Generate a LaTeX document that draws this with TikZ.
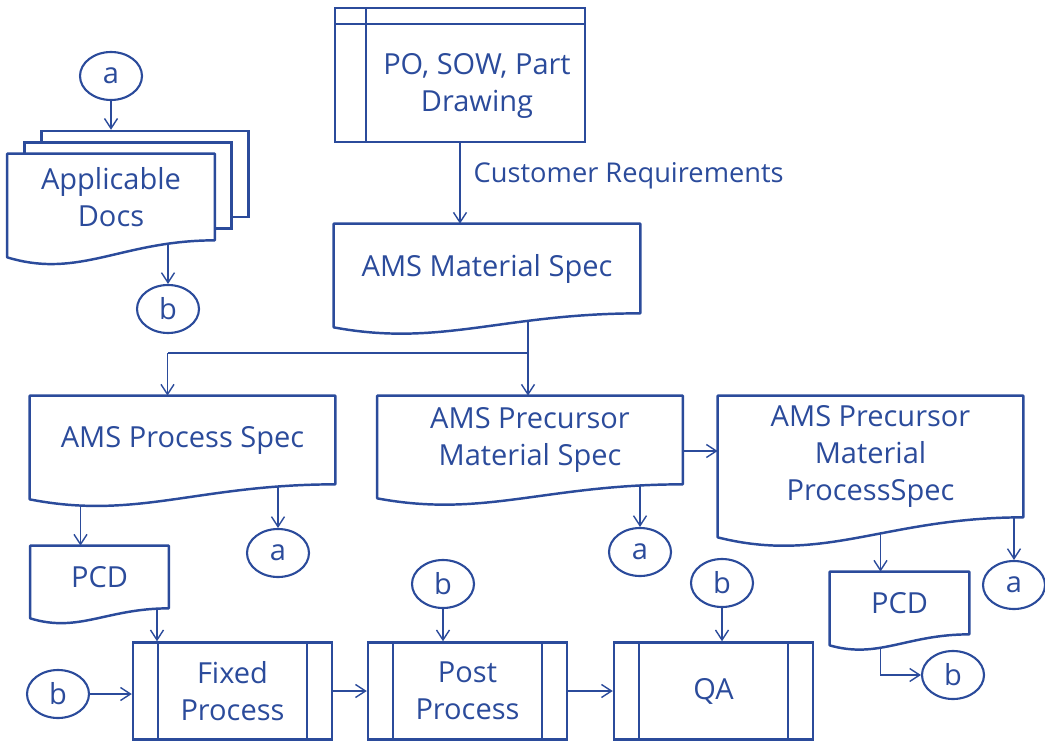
\documentclass[tikz,border=0pt]{standalone}
\usepackage{fontspec}
\setmainfont{Open Sans}
\usepackage{tikz}
\usetikzlibrary{arrows.meta,shapes,positioning,calc}

\definecolor{geblue}{RGB}{43,75,155}

% wavy bottom of a document node: name, left drop, control drop
\newcommand{\docwave}[3]{%
  \fill[white] (#1.south east) .. controls ($(#1.south east)!0.45!(#1.south west)$) and ($(#1.south east)!0.65!(#1.south west)+(0,-#3)$) .. ($(#1.south west)+(0,-#2)$) -- ([yshift=0.04cm]#1.south west) -- ([yshift=0.04cm]#1.south east) -- cycle;
  \draw[docline] (#1.north west) -- (#1.north east) -- (#1.south east) .. controls ($(#1.south east)!0.45!(#1.south west)$) and ($(#1.south east)!0.65!(#1.south west)+(0,-#3)$) .. ($(#1.south west)+(0,-#2)$) -- cycle;
}

\begin{document}
\begin{tikzpicture}[color=geblue, text=geblue, >={Straight Barb[length=2mm,width=2.6mm]},
    font=\fontsize{16.5}{21}\selectfont,
    doc/.style={rectangle, inner sep=0pt, align=center, minimum width=6.1cm, minimum height=1.76cm},
    page/.style={rectangle, draw, line width=1.4pt, fill=white, minimum width=4.14cm, minimum height=1.72cm},
    store/.style={rectangle, draw, line width=1.4pt, minimum width=5cm, minimum height=2.68cm,
      path picture={\draw[line width=1.4pt] ([xshift=0.62cm]path picture bounding box.north west) -- ([xshift=0.62cm]path picture bounding box.south west)
        ([yshift=-0.32cm]path picture bounding box.north west) -- ([yshift=-0.32cm]path picture bounding box.north east);}},
    proc/.style={rectangle, draw, line width=1.4pt, align=center, inner sep=0pt, minimum width=3.98cm, minimum height=1.94cm,
      path picture={\draw[line width=1.4pt] ([xshift=0.5cm]path picture bounding box.north west) -- ([xshift=0.5cm]path picture bounding box.south west)
        ([xshift=-0.5cm]path picture bounding box.north east) -- ([xshift=-0.5cm]path picture bounding box.south east);}},
    conn/.style={ellipse, draw, line width=1.2pt, inner sep=0pt, minimum width=1.24cm, minimum height=0.96cm},
    docline/.style={draw, line width=1.4pt, line join=round},
    line/.style={draw, ->, line width=0.8pt}]

    \useasboundingbox (0,0) rectangle (20.9,-14.9);

    \node [store] (po) at (9.2,-1.5) {};
    \node [inner sep=0pt, align=center] (potext) at (9.54,-1.72) {PO, SOW, Part\\Drawing};

    \node [doc, minimum width=6.12cm, minimum height=1.78cm] (amsmat) at (9.74,-5.37) {AMS Material Spec};
    \coordinate (split) at (10.56,-7.06);

    \node [doc] (amsproc) at (3.65,-8.8) {AMS Process Spec};
    \node [doc, right of=amsproc, node distance=6.95cm] (amsprec) {AMS Precursor\\Material Spec};
    \node [doc, minimum height=2.42cm] (amspmp) at (17.41,-9.13) {AMS Precursor\\Material\\ProcessSpec};

    \node [doc, minimum width=2.76cm, minimum height=1.24cm] (pcda) at (1.99,-11.54) {PCD};
    \node [doc, minimum width=2.78cm, minimum height=1.24cm] (pcdb) at (17.99,-12.06) {PCD};

    \node [page] (docsc) at (2.9,-3.48) {};
    \node [page] (docsb) at (2.56,-3.71) {};
    \node [doc, fill=white, minimum width=4.14cm, minimum height=1.72cm, text depth=-0.25cm] (docs) at (2.22,-3.94) {Applicable\\Docs};

    \node [proc] (fixed) at (4.65,-13.82) {Fixed\\Process};
    \node [proc, right of=fixed, node distance=4.7cm] (post) {Post\\Process};
    \node [proc, right of=post, node distance=4.92cm] (qa) {QA};

    \node [conn] (ca1) at (2.22,-1.52) {a};
    \node [conn] (cb1) at (3.36,-6.18) {b};
    \node [conn] (ca2) at (5.56,-11.06) {a};
    \node [conn] (ca3) at (12.8,-11.04) {a};
    \node [conn] (ca4) at (20.28,-11.7) {a};
    \node [conn] (cb2) at (8.86,-11.68) {b};
    \node [conn] (cb3) at (14.44,-11.66) {b};
    \node [conn] (cb4) at (1.16,-13.88) {b};
    \node [conn] (cb5) at (19.06,-13.5) {b};

    \path [line] (po.south) -- (po.south |- amsmat.north)
        node [pos=0.4, right=0.26cm, inner sep=0pt, font=\fontsize{15.5}{19}\selectfont] (custreq) {Customer Requirements};
    \path [line] (amsmat.south -| split) -- (split |- amsprec.north);
    \path [draw, line width=0.8pt] (split) -- ([xshift=-0.3cm]amsproc.north |- split);
    \path [line] ([xshift=-0.3cm]amsproc.north |- split) -- ([xshift=-0.3cm]amsproc.north);
    \path [line] ([yshift=-0.22cm]amsprec.east) -- ([yshift=-0.22cm]amsprec.east -| amspmp.west);

    \path [line] ([xshift=-0.38cm]pcda.north |- amsproc.south) -- ([xshift=-0.38cm]pcda.north);
    \path [line] (amsproc.south -| ca2) -- (ca2);
    \path [line] (amsprec.south -| ca3) -- (ca3);
    \path [line] ([xshift=-0.38cm]pcdb.north |- amspmp.south) -- ([xshift=-0.38cm]pcdb.north);
    \path [line] (amspmp.south -| ca4) -- (ca4);
    \path [line] ([xshift=-0.38cm]pcdb.south) |- (cb5);

    \path [line] (ca1) -- (ca1 |- docsc.north);
    \path [line] (docs.south -| cb1) -- (cb1);

    \path [line] ([xshift=-1.51cm]fixed.north |- pcda.south) -- ([xshift=-1.51cm]fixed.north);
    \path [line] (cb4) -- (cb4 -| fixed.west);
    \path [line] (cb2) -- (cb2 |- post.north);
    \path [line] (cb3) -- (cb3 |- qa.north);
    \path [line] (fixed.east) -- (post.west);
    \path [line] (post.east) -- (qa.west);

    \docwave{amsmat}{0.28}{0.68}
    \docwave{amsproc}{0.3}{0.72}
    \docwave{amsprec}{0.28}{0.68}
    \docwave{amspmp}{0.4}{0.94}
    \docwave{pcda}{0.2}{0.5}
    \docwave{pcdb}{0.22}{0.5}
    \docwave{docs}{0.34}{0.78}
\end{tikzpicture}
\end{document}
